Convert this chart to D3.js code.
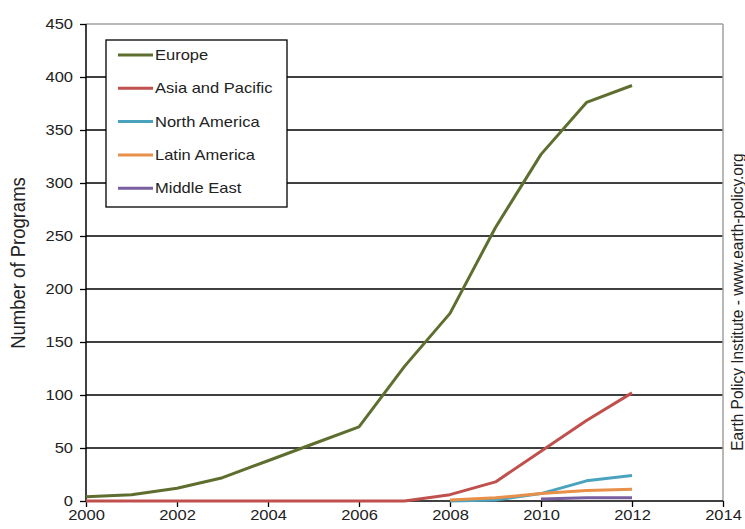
<!DOCTYPE html>
<html><head><meta charset="utf-8">
<script src="https://cdn.jsdelivr.net/npm/d3@7"></script>
<style>body{margin:0;background:#fff}svg{display:block}text{font-family:"Liberation Sans",Arial,sans-serif}</style>
</head><body><svg id="c" width="745" height="529"></svg>
<script>
const years = [2000,2001,2002,2003,2004,2005,2006,2007,2008,2009,2010,2011,2012];
const europe = [4,6,12,22,38,54,70,127,177,258,327,376,392];
const asiaPacific = [0,0,0,0,0,0,0,0,6,18,47,76,102];
const northAmerica = [null,null,null,null,null,null,null,null,0,1,7,19,24];
const latinAmerica = [null,null,null,null,null,null,null,null,1,3,7,10,11];
const middleEast = [null,null,null,null,null,null,null,null,null,null,2,3,3];
const seriesNames = ["Europe","Asia and Pacific","North America","Latin America","Middle East"];
const seriesColors = ["#5e6e2f","#c0504d","#4aa3be","#e8904a","#7a5fa0"];
const xTicks = [2000,2002,2004,2006,2008,2010,2012,2014];
const yTicks = [0,50,100,150,200,250,300,350,400,450];

const seriesValues = [europe, asiaPacific, northAmerica, latinAmerica, middleEast];
const svg = d3.select("#c");
const L=86, R=723, T=24, B=501;
const SX = 1.18;
const x = d3.scaleLinear().domain([2000,2014]).range([L,R]);
const y = d3.scaleLinear().domain([0,450]).range([B,T]);

// gridlines
svg.append("g").selectAll("line").data(yTicks.filter(d=>d>0 && d<450)).join("line")
  .attr("x1",L).attr("x2",R).attr("y1",d=>y(d)).attr("y2",d=>y(d))
  .attr("stroke","#000").attr("stroke-width",1.3);
// top and right border gray
svg.append("line").attr("x1",L).attr("x2",R).attr("y1",y(450)).attr("y2",y(450)).attr("stroke","#a0a0a0").attr("stroke-width",1.5);
svg.append("line").attr("x1",R).attr("x2",R).attr("y1",T).attr("y2",B).attr("stroke","#a0a0a0").attr("stroke-width",1.5);

// axes
const yAxis = svg.append("g").attr("transform",`translate(${L},0)`)
  .call(d3.axisLeft(y).tickValues(yTicks).tickSize(6).tickPadding(5).tickFormat(d3.format("d")));
const xAxis = svg.append("g").attr("transform",`translate(0,${B})`)
  .call(d3.axisBottom(x).tickValues(xTicks).tickSize(6).tickPadding(3).tickFormat(d3.format("d")));
[yAxis,xAxis].forEach(a=>{
  a.select(".domain").attr("stroke","#000").attr("stroke-width",1.5);
  a.selectAll(".tick line").attr("stroke","#000").attr("stroke-width",1.3);
  a.selectAll(".tick text").attr("font-size",14).attr("fill","#222")
    .attr("font-family","'Liberation Sans',Arial,sans-serif")
    .attr("transform",`scale(${SX},1)`);
});
xAxis.select(".domain").attr("d",`M${L},0H${R}`);
yAxis.select(".domain").attr("d",`M0,${B}V${T}`);

// lines
const line = d3.line().defined(d=>d[1]!==null).x(d=>x(d[0])).y(d=>y(d[1]));
seriesValues.forEach((vals,i)=>{
  svg.append("path").datum(years.map((yr,j)=>[yr,vals[j]]))
    .attr("d",line).attr("fill","none").attr("stroke",seriesColors[i])
    .attr("stroke-width",3).attr("stroke-linejoin","round");
});

// legend
const lg = svg.append("g");
lg.append("rect").attr("x",106).attr("y",40).attr("width",181).attr("height",167)
  .attr("fill","#fff").attr("stroke","#000").attr("stroke-width",1.3);
seriesNames.forEach((n,i)=>{
  const yy = 55 + i*33.3;
  lg.append("line").attr("x1",118).attr("x2",153).attr("y1",yy).attr("y2",yy)
    .attr("stroke",seriesColors[i]).attr("stroke-width",3);
  lg.append("text").attr("transform",`translate(155,${yy+5}) scale(${SX},1)`)
    .attr("font-size",14).attr("fill","#222").text(n);
});

// y label
svg.append("text").attr("transform",`translate(25,263) rotate(-90) scale(1,1.12)`)
  .attr("text-anchor","middle").attr("font-size",18.5).attr("fill","#222").text("Number of Programs");
svg.append("text").attr("transform",`translate(743,302) rotate(-90) scale(1,1.12)`)
  .attr("text-anchor","middle").attr("font-size",15.5).attr("fill","#222").text("Earth Policy Institute - www.earth-policy.org");
</script></body></html>
